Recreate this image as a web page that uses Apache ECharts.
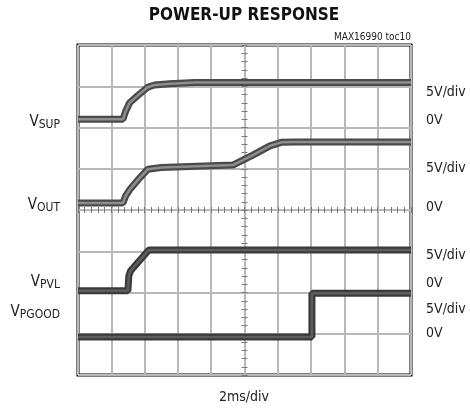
<!DOCTYPE html>
<html>
<head>
<meta charset="utf-8">
<script src="https://cdn.jsdelivr.net/npm/echarts@6/dist/echarts.min.js"></script>
<style>
  html, body { margin: 0; padding: 0; background: #fff; }
  #chart { width: 470px; height: 410px; }
</style>
</head>
<body>
<div id="chart"></div>
<script>
// time in ms, voltages in V (5V/div)
const supTime = [0, 2.7, 2.85, 3.1, 3.6, 4.2, 4.6, 5.5, 7, 20];
const supVolt = [0, 0, 0.9, 2.0, 2.9, 3.9, 4.15, 4.3, 4.45, 4.45];
const outTime = [0, 2.7, 2.85, 3.1, 3.6, 4.2, 5, 9.3, 10.5, 11.5, 12.2, 13, 20];
const outVolt = [0, 0, 0.8, 1.6, 2.8, 4.1, 4.3, 4.6, 5.8, 6.9, 7.35, 7.4, 7.4];
const pvlTime = [0, 3.0, 3.05, 3.15, 4.25, 20];
const pvlVolt = [0, 0, 1.8, 2.4, 4.95, 4.95];
const pgoodTime = [0, 14.05, 14.05, 20];
const pgoodVolt = [0, 0, 5.3, 5.3];
// 0V level of each trace, in screen divisions from the bottom
const zeroDiv = [6.2, 4.17, 2.04, 0.92];

const leftNames = [['V', 'SUP'], ['V', 'OUT'], ['V', 'PVL'], ['V', 'PGOOD']];
const leftPos = [6.13, 4.12, 2.25, 1.53];
const rightLabels = ['5V/div', '0V', '5V/div', '0V', '5V/div', '0V', '5V/div', '0V'];
const rightPos = [6.86, 6.18, 5.02, 4.07, 2.91, 2.23, 1.58, 1.02];

const FONT = '"Liberation Sans Narrow", "DejaVu Sans Condensed", sans-serif';

function toPoints(ts, vs, zero) {
  return ts.map((t, i) => [t, zero + vs[i] / 5]);
}

const traces = [
  { data: toPoints(supTime, supVolt, zeroDiv[0]), outer: '#4a4a4a', inner: '#8e8e8e' },
  { data: toPoints(outTime, outVolt, zeroDiv[1]), outer: '#4a4a4a', inner: '#8e8e8e' },
  { data: toPoints(pvlTime, pvlVolt, zeroDiv[2]), outer: '#3a3a3a', inner: '#5e5e5e' },
  { data: toPoints(pgoodTime, pgoodVolt, zeroDiv[3]), outer: '#3a3a3a', inner: '#5e5e5e' },
];

const series = [];
traces.forEach(tr => {
  series.push({
    type: 'line', xAxisIndex: 0, yAxisIndex: 0, data: tr.data,
    symbol: 'none', silent: true, animation: false,
    lineStyle: { color: tr.outer, width: 7 },
  });
  series.push({
    type: 'line', xAxisIndex: 0, yAxisIndex: 0, data: tr.data,
    symbol: 'none', silent: true, animation: false,
    lineStyle: { color: tr.inner, width: 2.5 },
  });
});

const gridLine = { lineStyle: { color: '#b8b8b8', width: 2 } };
const centreLine = { lineStyle: { color: '#b8b8b8', width: 2 } };

// centre graticule lines, ticks drawn on both sides
const centreX = inside => ({
  type: 'value', min: -10, max: 10, interval: 0.4,
  axisLine: Object.assign({ show: true, onZero: true, onZeroAxisIndex: 1 }, centreLine),
  axisTick: { show: true, inside: inside, length: 3, lineStyle: { color: '#777', width: 1 } },
  axisLabel: { show: false }, splitLine: { show: false },
});
const centreY = inside => ({
  type: 'value', min: -4, max: 4, interval: 0.2,
  axisLine: Object.assign({ show: true, onZero: true, onZeroAxisIndex: 1 }, centreLine),
  axisTick: { show: true, inside: inside, length: 3, lineStyle: { color: '#777', width: 1 } },
  axisLabel: { show: false }, splitLine: { show: false },
});

const chart = echarts.init(document.getElementById('chart'));
chart.setOption({
  animation: false,
  title: [
    {
      text: 'POWER-UP RESPONSE', left: 244, top: 7, padding: 0, textAlign: 'center',
      textStyle: { fontFamily: FONT, fontWeight: 'bold', fontSize: 17, color: '#111' },
    },
    {
      text: 'MAX16990 toc10', right: 59, top: 32, padding: 0,
      textStyle: { fontFamily: FONT, fontWeight: 'normal', fontSize: 10, color: '#222' },
    },
    {
      text: '2ms/div', left: 244, top: 390, padding: 0, textAlign: 'center',
      textStyle: { fontFamily: FONT, fontWeight: 'normal', fontSize: 14, color: '#222' },
    },
  ],
  grid: {
    left: 78, top: 45, width: 333, height: 330,
    show: true, borderColor: '#000', borderWidth: 3, backgroundColor: '#fff',
  },
  xAxis: [
    {
      type: 'value', min: 0, max: 20, interval: 2,
      axisLine: { show: false }, axisTick: { show: false }, axisLabel: { show: false },
      splitLine: gridLine,
    },
    centreX(true),
    centreX(false),
  ],
  yAxis: [
    {
      type: 'value', min: 0, max: 8, interval: 1,
      axisLine: { show: false }, axisTick: { show: false },
      splitLine: gridLine,
      axisLabel: {
        show: true, margin: 18, customValues: leftPos,
        formatter: v => {
          const n = leftNames[leftPos.indexOf(v)];
          return n ? '{v|' + n[0] + '}{s|' + n[1] + '}' : '';
        },
        rich: {
          v: { fontFamily: FONT, fontSize: 15, color: '#222' },
          s: { fontFamily: FONT, fontSize: 12, color: '#222', padding: [6, 0, 0, 0] },
        },
      },
    },
    centreY(true),
    {
      type: 'value', min: 0, max: 8, position: 'right',
      axisLine: { show: false }, axisTick: { show: false }, splitLine: { show: false },
      axisLabel: {
        show: true, margin: 15, customValues: rightPos,
        formatter: v => rightLabels[rightPos.indexOf(v)] || '',
        fontFamily: FONT, fontSize: 14, color: '#222',
      },
    },
    centreY(false),
  ],
  series: series,
});
</script>
</body>
</html>
